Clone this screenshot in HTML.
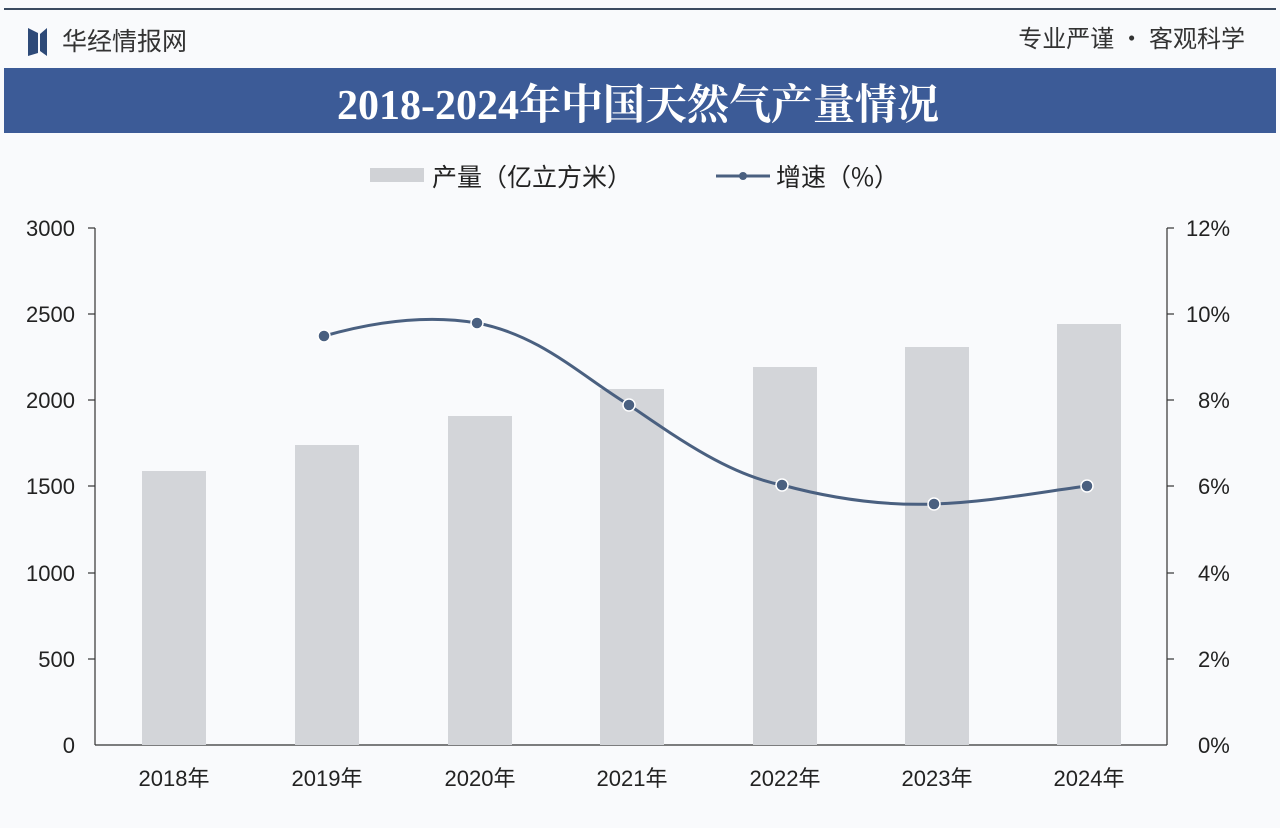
<!DOCTYPE html>
<html><head><meta charset="utf-8"><style>
body{margin:0;width:1280px;height:828px;background:#f9fafc;overflow:hidden;font-family:"Liberation Sans","Noto Sans CJK SC",sans-serif;}
</style></head><body>
<svg width="1280" height="828" xmlns="http://www.w3.org/2000/svg" style="position:absolute;left:0;top:0">
<rect x="0" y="0" width="1280" height="828" fill="#f9fafc"/>
<line x1="4" y1="9" x2="1276" y2="9" stroke="#3a4a60" stroke-width="2"/>
<path d="M28 28 L38 33 L38 53 L28 56 Z M40 34 L47 28 L47 56 L40 51 Z" fill="#2e4a78"/>
<text x="62" y="50" font-size="25" fill="#333" font-family="Noto Sans CJK SC,sans-serif">华经情报网</text>
<text x="1245" y="47" font-size="24" fill="#333" text-anchor="end" font-family="Noto Sans CJK SC,sans-serif">专业严谨 • 客观科学</text>
<rect x="4" y="68" width="1272" height="65" fill="#3c5b97"/>
<text x="638" y="119" font-size="42" font-weight="bold" fill="#fff" text-anchor="middle" font-family="Liberation Serif,Noto Serif CJK SC,serif">2018-2024年中国天然气产量情况</text>
<rect x="370" y="168" width="54" height="14" fill="#d0d2d6"/>
<text x="432" y="186" font-size="25" fill="#222" font-family="Noto Sans CJK SC,sans-serif">产量（亿立方米）</text>
<line x1="716" y1="176" x2="770" y2="176" stroke="#4a6080" stroke-width="3"/>
<circle cx="743" cy="176" r="4" fill="#4a6080"/>
<text x="776" y="186" font-size="25" fill="#222" font-family="Noto Sans CJK SC,sans-serif">增速（%）</text>
<g stroke="#333" stroke-width="1.2">
<line x1="95" y1="228" x2="95" y2="745"/><line x1="1167" y1="228" x2="1167" y2="745"/><line x1="95" y1="745" x2="1167" y2="745"/>
<line x1="88" y1="228" x2="95" y2="228"/><line x1="88" y1="314" x2="95" y2="314"/><line x1="88" y1="400" x2="95" y2="400"/><line x1="88" y1="486" x2="95" y2="486"/><line x1="88" y1="573" x2="95" y2="573"/><line x1="88" y1="659" x2="95" y2="659"/>
<line x1="1167" y1="228" x2="1174" y2="228"/><line x1="1167" y1="314" x2="1174" y2="314"/><line x1="1167" y1="400" x2="1174" y2="400"/><line x1="1167" y1="486" x2="1174" y2="486"/><line x1="1167" y1="573" x2="1174" y2="573"/><line x1="1167" y1="659" x2="1174" y2="659"/>
</g>
<g font-size="22" fill="#222" text-anchor="end">
<text x="75" y="236">3000</text><text x="75" y="322">2500</text><text x="75" y="408">2000</text><text x="75" y="494">1500</text><text x="75" y="581">1000</text><text x="75" y="667">500</text><text x="75" y="753">0</text>
</g>
<g font-size="22" fill="#222">
<text x="1186" y="236">12%</text><text x="1186" y="322">10%</text><text x="1198" y="408">8%</text><text x="1198" y="494">6%</text><text x="1198" y="581">4%</text><text x="1198" y="667">2%</text><text x="1198" y="753">0%</text>
</g>
<g fill="#d3d5d9">
<rect x="142" y="471" width="64" height="274"/><rect x="295" y="445" width="64" height="300"/><rect x="448" y="416" width="64" height="329"/><rect x="600" y="389" width="64" height="356"/><rect x="753" y="367" width="64" height="378"/><rect x="905" y="347" width="64" height="398"/><rect x="1057" y="324" width="64" height="421"/>
</g>
<g font-size="22" fill="#222" text-anchor="middle" font-family="Liberation Sans,Noto Sans CJK SC,sans-serif">
<text x="174" y="786">2018年</text><text x="327" y="786">2019年</text><text x="480" y="786">2020年</text><text x="632" y="786">2021年</text><text x="785" y="786">2022年</text><text x="937" y="786">2023年</text><text x="1089" y="786">2024年</text>
</g>
<path d="M324 336 C380 320,430 315,477 323 C540 335,580 375,629 405 C680 440,730 475,782 485 C830 498,880 506,934 504 C990 502,1040 492,1087 486" fill="none" stroke="#4a6080" stroke-width="3"/>
<g fill="#4a6080" stroke="#fff" stroke-width="1.5">
<circle cx="324" cy="336" r="6"/><circle cx="477" cy="323" r="6"/><circle cx="629" cy="405" r="6"/><circle cx="782" cy="485" r="6"/><circle cx="934" cy="504" r="6"/><circle cx="1087" cy="486" r="6"/>
</g>
</svg>
</body></html>
